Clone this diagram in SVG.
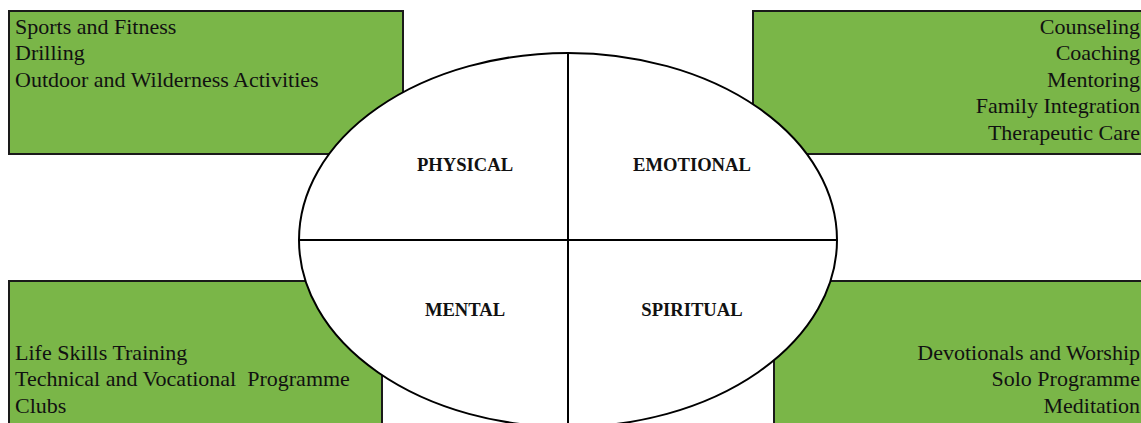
<svg xmlns="http://www.w3.org/2000/svg" width="1141" height="423" viewBox="0 0 1141 423">
<style>
.box{fill:#7ab648;stroke:#1a1a1a;stroke-width:2}
.t{font-family:"Liberation Serif","Times New Roman",serif;font-size:22px;fill:#111;white-space:pre}
.r{text-anchor:end}
.lbl{font-family:"Liberation Serif","Times New Roman",serif;font-size:18.6px;font-weight:bold;fill:#111;text-anchor:middle}
.ln{stroke:#000;stroke-width:2;fill:none}
</style>
<rect width="1141" height="423" fill="#fff"/>
<g id="physical-box">
<rect class="box" x="9" y="11" width="394" height="143"/>
<text class="t" x="15" y="33.5">Sports and Fitness</text>
<text class="t" x="15" y="60">Drilling</text>
<text class="t" x="15" y="86.5">Outdoor and Wilderness Activities</text>
</g>
<g id="emotional-box">
<rect class="box" x="753" y="11" width="400" height="143"/>
<text class="t r" x="1140" y="33.5">Counseling</text>
<text class="t r" x="1140" y="60">Coaching</text>
<text class="t r" x="1140" y="86.5">Mentoring</text>
<text class="t r" x="1140" y="113">Family Integration</text>
<text class="t r" x="1140" y="139.5">Therapeutic Care</text>
</g>
<g id="mental-box">
<rect class="box" x="9" y="281" width="373" height="160"/>
<text class="t" x="15" y="359.5" xml:space="preserve">Life Skills Training</text>
<text class="t" x="15" y="386" xml:space="preserve">Technical and Vocational  Programme</text>
<text class="t" x="15" y="412.5" xml:space="preserve">Clubs</text>
</g>
<g id="spiritual-box">
<rect class="box" x="774" y="281" width="380" height="160"/>
<text class="t r" x="1140" y="359.5">Devotionals and Worship</text>
<text class="t r" x="1140" y="386">Solo Programme</text>
<text class="t r" x="1140" y="412.5">Meditation</text>
</g>
<g id="wheel">
<ellipse cx="568" cy="240" rx="269" ry="187" fill="#fff" stroke="#000" stroke-width="2"/>
<text class="lbl" x="465" y="171">PHYSICAL</text>
<text class="lbl" x="692" y="171">EMOTIONAL</text>
<text class="lbl" x="465" y="316">MENTAL</text>
<text class="lbl" x="692" y="316">SPIRITUAL</text>
</g>
<g id="connectors">
<line class="ln" x1="568" y1="53" x2="568" y2="427"/>
<line class="ln" x1="299" y1="240" x2="837" y2="240"/>
</g>
</svg>
